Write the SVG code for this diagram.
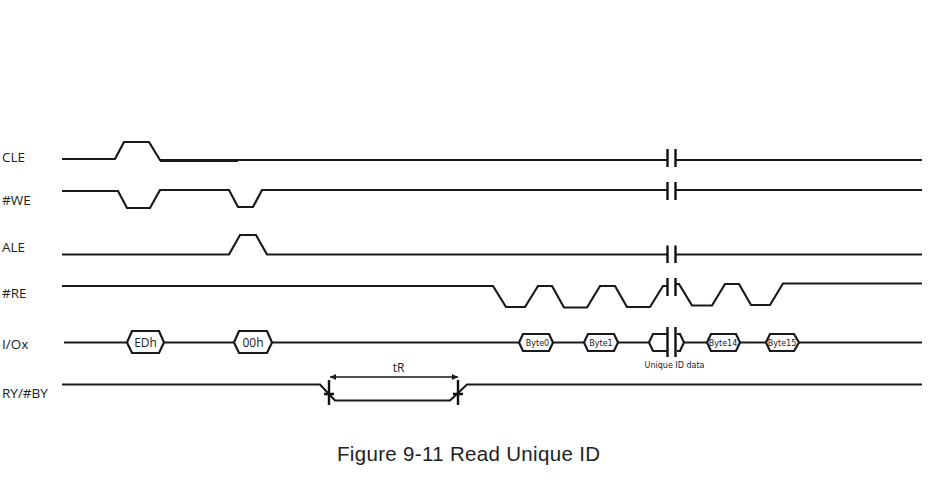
<svg xmlns="http://www.w3.org/2000/svg" width="938" height="482" viewBox="0 0 938 482">
<defs>
<marker id="arr" markerWidth="7" markerHeight="6" refX="6" refY="3" orient="auto-start-reverse" markerUnits="userSpaceOnUse"><path d="M0,0 L6,3 L0,6 Z" fill="#1a1a1a"/></marker>
</defs>
<style>
.w{fill:none;stroke:#1a1a1a;stroke-width:2.2}
.t{fill:none;stroke:#111;stroke-width:2.4}
.h{fill:#fff;stroke:#1a1a1a;stroke-width:2.2}
.l{font-family:"Open Sans","Noto Sans",sans-serif;font-size:13.500px;fill:#222}
.b{font-family:"DejaVu Sans",sans-serif;font-size:8px;fill:#222;text-anchor:middle}
.c{font-family:"Open Sans","Noto Sans",sans-serif;font-size:12px;fill:#222;text-anchor:middle}
</style>
<rect width="938" height="482" fill="#fff"/>
<g id="connectors">
<path class="w" d="M62 159H115L124 142H149L160 160H667M676 160H922"/>
<path class="w" d="M160 160.500H238" style="stroke-width:3"/>
<path class="w" d="M62 191H118L127 208H150L160 190H229L238 207H253L262 190H667M676 190H922"/>
<path class="w" d="M62 254.500H229L240 235H256L267 254.500H667M676 254.500H922"/>
<path class="w" d="M62 286H493L506 307H525L538 286H552L564 307.500H587L600 286H615L627 307H650L663 286H667M676 284H679L692 305.500H712L725 284H739L751 305H770L783 283.500H922"/>
<path class="w" d="M64 342.500H127M164 342.500H234M272 342.500H519M553 342.500H584M618 342.500H649M684 342.500H707M740 342.500H766M799 342.500H922"/>
<path class="w" d="M62 384.500H320L335 400.500H450L467 384.500H922"/>
<path class="t" d="M667.500 149V167M675.500 149V167M667.500 182V200M675.500 182V200M667.500 245.500V263M675.500 245.500V263M667.500 278V296M675.500 278V296M667.500 327V357M675.500 327V357"/>
<path class="t" d="M329 380V405M324 394H334M458 380V405M453 394H463"/>
<path d="M330 377H458" fill="none" stroke="#1a1a1a" stroke-width="1.500" marker-start="url(#arr)" marker-end="url(#arr)"/>
</g>
<g id="cle"><text class="l" x="2" y="162">CLE</text></g>
<g id="we"><text class="l" x="2" y="205">#WE</text></g>
<g id="ale"><text class="l" x="2" y="252">ALE</text></g>
<g id="re"><text class="l" x="2" y="298">#RE</text></g>
<g id="io"><text class="l" x="2" y="349">I/Ox</text></g>
<g id="ry"><text class="l" x="2" y="398">RY/#BY</text></g>
<g id="edh"><path class="h" d="M127 342.500L132 331H159L164 342.500L159 353H132Z"/><text class="c" x="145.500" y="347">EDh</text></g>
<g id="h00"><path class="h" d="M234 342.500L239 331H267L272 342.500L267 353H239Z"/><text class="c" x="253" y="347">00h</text></g>
<g id="byte0"><path class="h" d="M519 342.500L523 334H549L553 342.500L549 351H523Z"/><text class="b" x="537.500" y="345.500">Byte0</text></g>
<g id="byte1"><path class="h" d="M584 342.500L588 334H614L618 342.500L614 351H588Z"/><text class="b" x="601" y="345.500">Byte1</text></g>
<g id="uid"><path class="w" d="M668 334H653L649 342.500L653 351H668M677 334H680L684 342.500L680 351H677"/><text class="b" x="674.500" y="368">Unique ID data</text></g>
<g id="byte14"><path class="h" d="M707 342.500L711 334H736L740 342.500L736 351H711Z"/><text class="b" x="723" y="345.500">Byte14</text></g>
<g id="byte15"><path class="h" d="M766 342.500L770 334H794L799 342.500L794 351H770Z"/><text class="b" x="782" y="345.500">Byte15</text></g>
<g id="tr"><text class="c" x="398.500" y="372">tR</text></g>
<text x="337" y="461" font-family="Liberation Sans, Arial, sans-serif" font-size="20.500" fill="#222" textLength="263">Figure 9-11 Read Unique ID</text>
</svg>
